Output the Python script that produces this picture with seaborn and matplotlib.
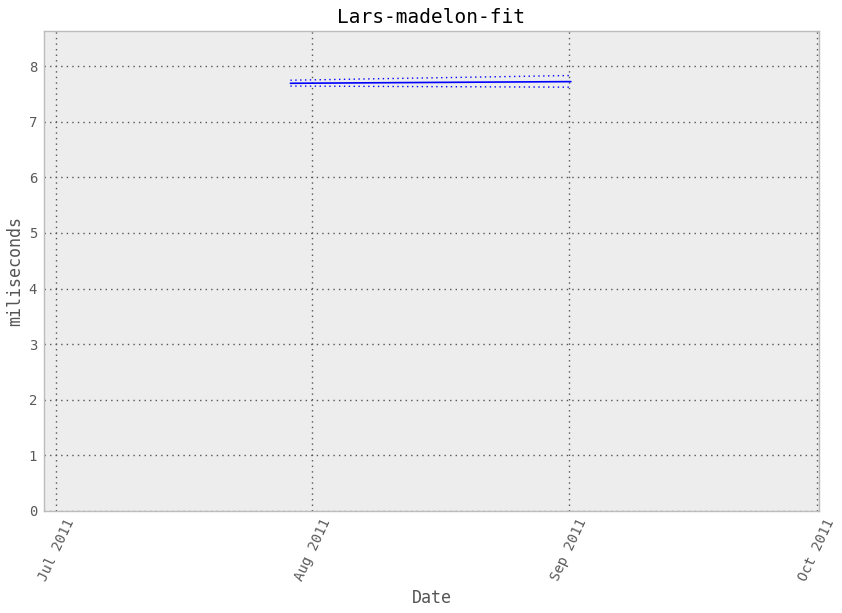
import matplotlib
matplotlib.use("Agg")
import matplotlib.pyplot as plt
import seaborn as sns
import pandas as pd

dates = ["2011-07-29 08:00", "2011-09-01 06:00"]
mean_ms = [7.69, 7.72]
upper_ms = [7.745, 7.83]
lower_ms = [7.64, 7.62]
tick_dates = ["2011-07-01", "2011-08-01", "2011-09-01", "2011-10-01"]
tick_labels = ["Jul 2011", "Aug 2011", "Sep 2011", "Oct 2011"]

sns.set_style("darkgrid", {
    "axes.facecolor": "#EDEDED",
    "axes.edgecolor": "#BCBCBC",
    "grid.color": "#555555",
})
plt.rcParams["font.family"] = ["DejaVu Sans Mono", "DejaVu Sans"]

df = pd.DataFrame({"date": pd.to_datetime(dates), "mean": mean_ms,
                   "upper": upper_ms, "lower": lower_ms})

fig = plt.figure(figsize=(8.42, 6.13), dpi=100)
ax = fig.add_axes([44 / 842, 1 - 511 / 613, (819 - 44) / 842, (511 - 31) / 613])

sns.lineplot(data=df, x="date", y="mean", ax=ax, color="blue", linewidth=1.2)
sns.lineplot(data=df, x="date", y="upper", ax=ax, color="blue", linewidth=1.0, linestyle=(0, (1, 2.5)))
sns.lineplot(data=df, x="date", y="lower", ax=ax, color="blue", linewidth=1.0, linestyle=(0, (1, 2.5)))

ax.set_xlim(pd.Timestamp("2011-06-29 13:00"), pd.Timestamp("2011-10-01 06:00"))
ax.set_ylim(0, 8.63)
ax.set_xticks(pd.to_datetime(tick_dates))
ax.set_xticklabels(tick_labels, rotation=65, ha="center")
ax.set_yticks(range(0, 9))
ax.grid(True, color="#555555", linestyle=(0, (1, 3)), linewidth=1.0)
ax.tick_params(axis="both", length=0, labelsize=10, colors="#5A5A5A")
ax.tick_params(axis="x", pad=4)
ax.tick_params(axis="y", pad=5)
for s in ax.spines.values():
    s.set_visible(True)
    s.set_color("#BCBCBC")
    s.set_linewidth(1.0)

ax.set_title("Lars-madelon-fit", fontsize=14, color="black", pad=6)
ax.set_xlabel("Date", fontsize=12, color="#555555", labelpad=4)
ax.set_ylabel("miliseconds", fontsize=12, color="#555555", labelpad=3)

fig.savefig("out.png", dpi=100)
